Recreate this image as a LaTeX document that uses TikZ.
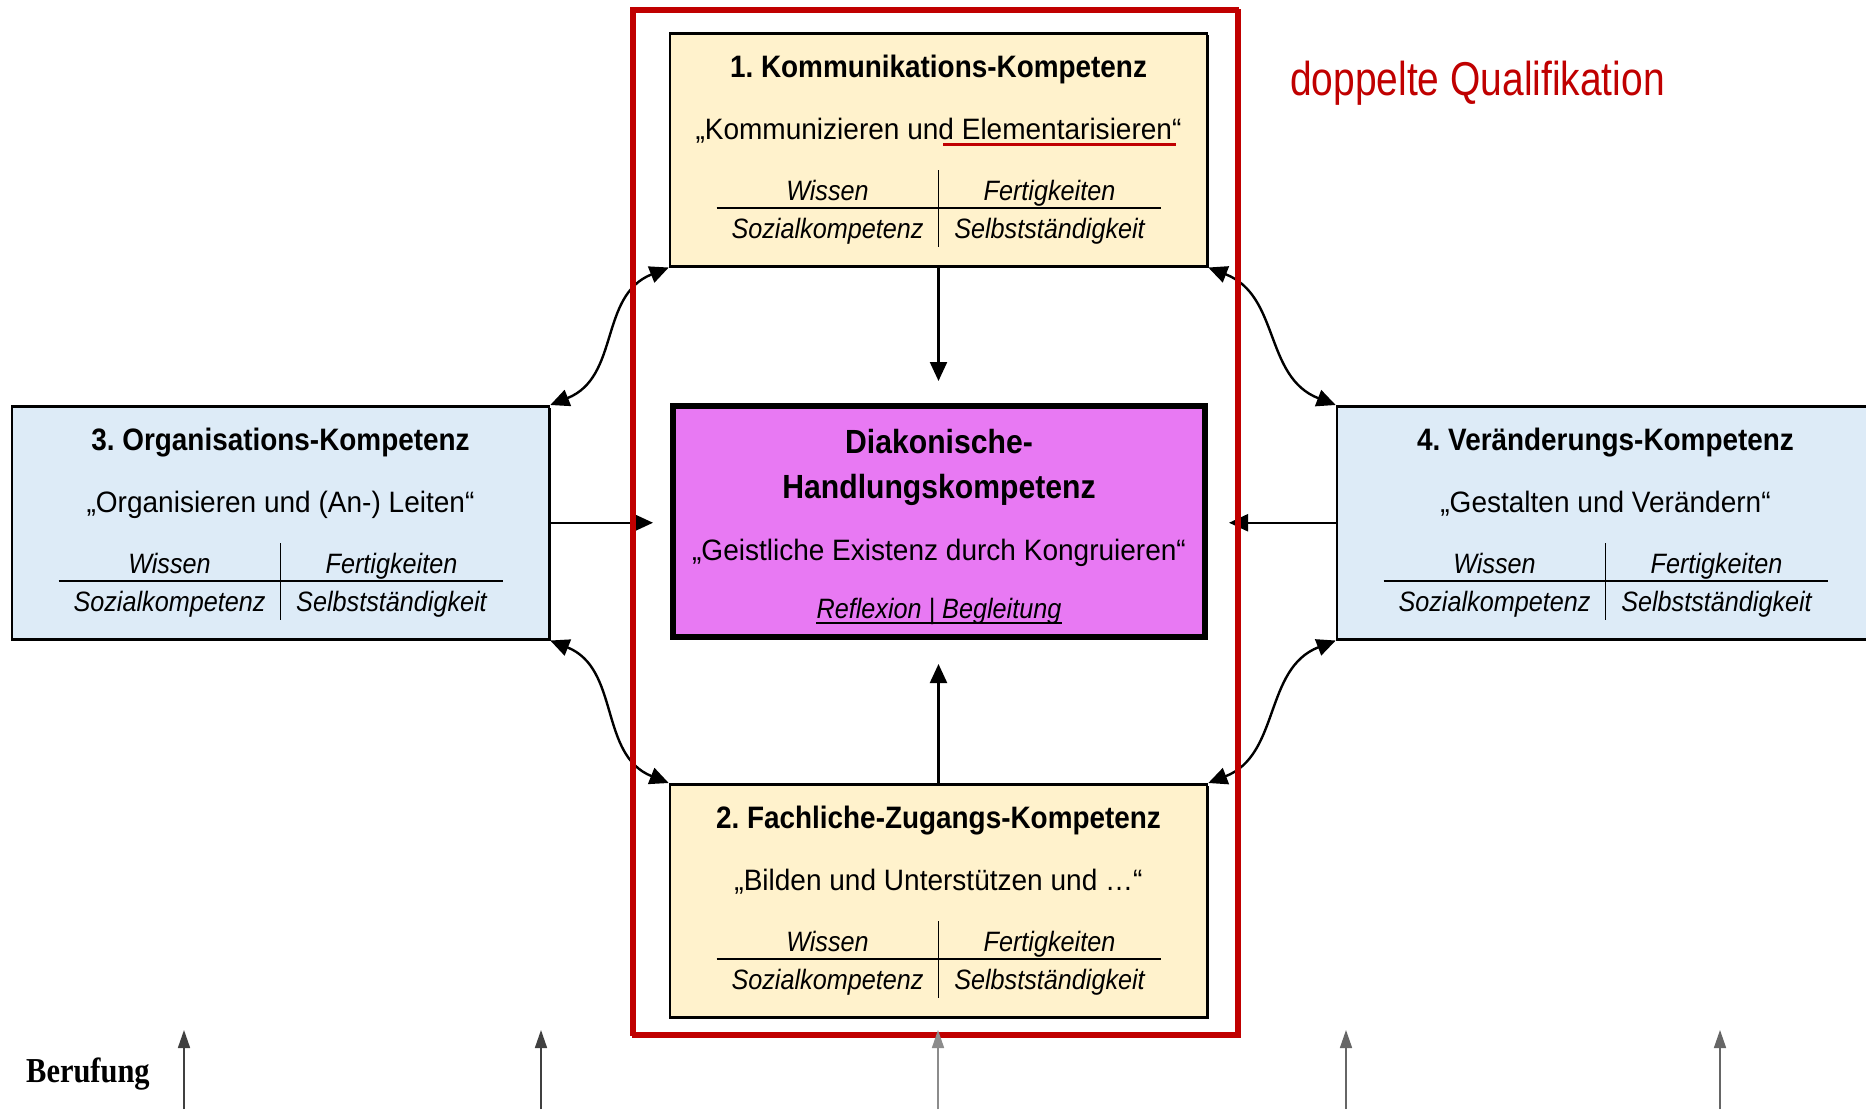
\documentclass[tikz,border=0pt]{standalone}
\usepackage{fontspec}
\setmainfont{Liberation Sans}
\newfontfamily\narrowfont[FakeStretch=0.82]{Liberation Sans}
\newfontfamily\condA[FakeStretch=0.9]{Liberation Sans}
\newfontfamily\condB[FakeStretch=0.95]{Liberation Sans}
\newfontfamily\berfont[FakeStretch=0.87]{Liberation Serif}
\usetikzlibrary{arrows.meta,shadows}
\definecolor{kred}{HTML}{C00000}
\definecolor{beige}{HTML}{FFF2CC}
\definecolor{lblue}{HTML}{DDEBF7}
\definecolor{magen}{HTML}{E879F3}
\tikzset{
 kbox/.style={draw=black, line width=2.5pt, minimum width=537pt, minimum height=233pt, anchor=north, inner sep=0pt,
   drop shadow={shadow xshift=1.5pt, shadow yshift=-2pt, opacity=1, fill=black}},
 ttl/.style={font=\condA\bfseries\fontsize{31}{36}\selectfont, anchor=base, inner sep=0pt},
 ctitle/.style={font=\condA\bfseries\fontsize{33.5}{38}\selectfont, anchor=base, inner sep=0pt},
 sub/.style={font=\condB\fontsize{29.5}{34}\selectfont, anchor=base, inner sep=0pt},
 cell/.style={font=\condA\itshape\fontsize{28}{32}\selectfont, anchor=base, inner sep=0pt},
 tabline/.style={line width=1.5pt},
 conn/.style={line width=2.2pt, -{Triangle[length=19pt,width=17pt]}},
 dconn/.style={line width=2.4pt, {Triangle[length=19pt,width=17pt]}-{Triangle[length=19pt,width=17pt]}},
 upconn/.style={line width=1.6pt, black!75, -{Triangle[length=18pt,width=12pt]}},
 redframe/.style={draw=kred, line width=4.5pt},
}
\newcommand\KBox[6]{%
 \node[kbox, fill=#4] (#1) at (#2,#3) {};
 \node[ttl] (#1-t) at (#2,#3+45) {#5};
 \node[sub] (#1-s) at (#2,#3+107) {#6};
 \draw[tabline] (#2-222,#3+176) -- (#2+222,#3+176);
 \draw[tabline] (#2,#3+138) -- (#2,#3+215);
 \node[cell] (#1-w) at (#2-111,#3+168) {Wissen};
 \node[cell] (#1-f) at (#2+111,#3+168) {Fertigkeiten};
 \node[cell] (#1-k) at (#2-111,#3+206) {Sozialkompetenz};
 \node[cell] (#1-g) at (#2+111,#3+206) {Selbstständigkeit};
}
\begin{document}
\frenchspacing
\begin{tikzpicture}[x=1pt,y=-1pt]
\useasboundingbox (0,0) rectangle (1866,1109);
\clip (0,0) rectangle (1866,1109);
\fill[white] (0,0) rectangle (1866,1109);

\KBox{k1}{938.5}{32}{beige}{1. Kommunikations-Kompetenz}{„Kommunizieren und Elementarisieren“}
\KBox{k2}{938.5}{783}{beige}{2. Fachliche-Zugangs-Kompetenz}{„Bilden und Unterstützen und …“}
\KBox{k3}{280.5}{405}{lblue}{3. Organisations-Kompetenz}{„Organisieren und (An-) Leiten“}
\KBox{k4}{1605.5}{405}{lblue}{4. Veränderungs-Kompetenz}{„Gestalten und Verändern“}

\draw[kred, line width=3pt] (943,144) -- (1176,144);

\node[draw=black, line width=6pt, fill=magen, minimum width=532pt, minimum height=231pt, inner sep=0pt] (zent) at (939,521.5) {};
\node[ctitle] (zent-t1) at (939,453) {Diakonische-};
\node[ctitle] (zent-t2) at (939,498) {Handlungskompetenz};
\node[sub] (zent-s) at (939,560) {„Geistliche Existenz durch Kongruieren“};
\node[cell] (zent-r) at (939,618) {Reflexion | Begleitung};
\draw[line width=1.5pt] ([yshift=-5pt]zent-r.base west) -- ([yshift=-5pt]zent-r.base east);

\draw[conn, shorten >=22pt] (k1.south) -- (k1.south |- zent.north);
\draw[conn, shorten >=24pt] (k2.north) -- (k2.north |- zent.south);
\draw[conn, shorten >=17pt] (k3.east) -- (k3.east -| zent.west);
\draw[conn, shorten >=21pt] (k4.west) -- (k4.west -| zent.east);

\draw[dconn] (k3.north east) .. controls +(70,-28) and +(-70,28) .. (k1.south west);
\draw[dconn] (k1.south east) .. controls +(72,28) and +(-72,-28) .. (k4.north west);
\draw[dconn] (k3.south east) .. controls +(70,28) and +(-70,-28) .. (k2.north west);
\draw[dconn] (k2.north east) .. controls +(72,-28) and +(-72,28) .. (k4.south west);

\draw[redframe] (634,11) rectangle (1239,1036);
\draw[redframe] (632,9) rectangle (1237,1034);

\node[font=\narrowfont\fontsize{47.5}{56}\selectfont, text=kred, anchor=base west, inner sep=0pt] (dq) at (1290,95) {doppelte Qualifikation};
\node[font=\berfont\bfseries\fontsize{35}{40}\selectfont, anchor=base west, inner sep=0pt] (beruf) at (26,1082) {Berufung};

\coordinate (b1) at (184,1109); \coordinate (b1t) at (184,1030);
\coordinate (b2) at (541,1109); \coordinate (b2t) at (541,1030);
\coordinate (b3) at (938,1109); \coordinate (b3t) at (938,1030);
\coordinate (b4) at (1346,1109); \coordinate (b4t) at (1346,1030);
\coordinate (b5) at (1720,1109); \coordinate (b5t) at (1720,1030);
\draw[upconn] (b1) -- (b1t);
\draw[upconn] (b2) -- (b2t);
\draw[upconn, black!45] (b3) -- (b3t);
\draw[upconn, black!60] (b4) -- (b4t);
\draw[upconn, black!60] (b5) -- (b5t);
\end{tikzpicture}
\end{document}
